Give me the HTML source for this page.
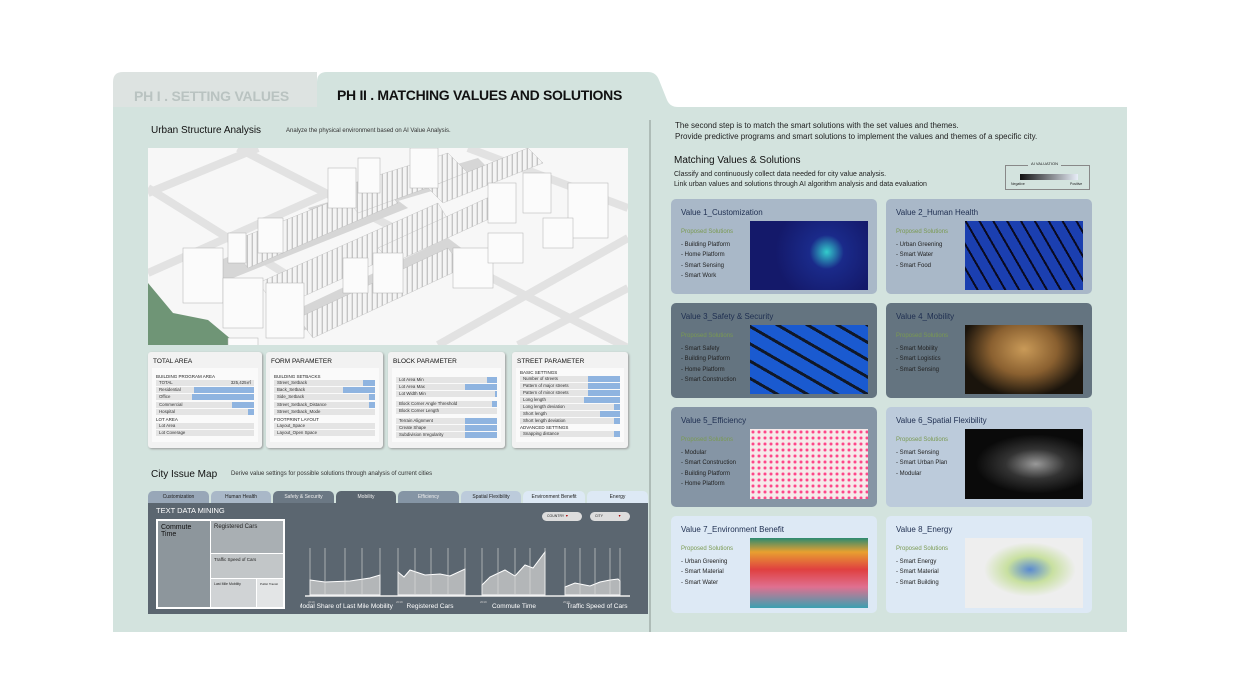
<!DOCTYPE html>
<html><head><meta charset="utf-8"><style>
*{margin:0;padding:0;box-sizing:border-box}
body{width:1240px;height:698px;background:#fff;position:relative;overflow:hidden;font-family:"Liberation Sans",sans-serif;color:#222}
.a{position:absolute}
.card{position:absolute;border-radius:5px;width:206px}
.card .t{position:absolute;left:10px;top:9px;font-size:8px;color:#1e2e50}
.card .p{position:absolute;left:10px;top:30px;font-size:6px;color:#7a9a50}
.card ul{position:absolute;left:10px;top:41px;list-style:none;font-size:6px;line-height:10.3px;color:#222}
.card .im{position:absolute;left:79px;top:22px;width:118px;height:69px}
.pc{position:absolute;top:352px;height:96px;background:#f2f2f2;border-radius:3px;box-shadow:1px 1px 2px #999}
.pc h4{font-size:6.5px;font-weight:normal;margin:6px 0 0 5px;color:#111}
.pc .in{position:absolute;left:4px;right:4px;top:16px;bottom:6px;background:#fafafa}
.row{position:absolute;left:4px;right:4px;height:6px;background:#e4e4e4;font-size:4.4px;line-height:6px;padding-left:3px;color:#333}
.row b{position:absolute;right:0;top:0;height:6px;background:#8fb4e0}
.tab{position:absolute;top:491px;height:12px;font-size:5px;text-align:center;line-height:12px;border-radius:5px 5px 0 0}
</style></head><body>
<svg class="a" style="left:0;top:0" width="1240" height="698">
<path d="M113,82 Q113,72 123,72 L317,72 L317,107 L113,107Z" fill="#dde3e1"/>
<path d="M317,82 Q317,72 327,72 L648,72 Q656,72 659,80 L667,100 Q670,107 678,107 L1127,107 L1127,632 L113,632 L113,107 L317,107Z" fill="#d3e3de"/>
<line x1="650" y1="120" x2="650" y2="632" stroke="#8a9490" stroke-width="1"/>
</svg>
<div class="a" style="left:134px;top:88px;font-size:14px;font-weight:bold;color:#b9c3c1;letter-spacing:-0.2px">PH I . SETTING VALUES</div>
<div class="a" style="left:337px;top:87px;font-size:14px;font-weight:bold;color:#111;letter-spacing:-0.3px">PH II . MATCHING VALUES AND SOLUTIONS</div>
<div class="a" style="left:151px;top:125px;font-size:10px;color:#111">Urban Structure Analysis</div>
<div class="a" style="left:286px;top:128px;font-size:6px;color:#333">Analyze the physical environment based on AI Value Analysis.</div>
<svg class="a" style="left:148px;top:148px" width="480" height="197">
<defs>
<pattern id="bl" width="5" height="12" patternUnits="userSpaceOnUse" patternTransform="skewY(-25)">
<rect width="5" height="12" fill="#f4f4f4"/><rect x="3.6" width="1.4" height="12" fill="#c4c4c4"/>
</pattern>
</defs>
<rect width="480" height="197" fill="#f7f7f7"/>
<g stroke="#e2e2e2" stroke-width="8" fill="none">
<path d="M0,45 L110,0"/><path d="M0,125 L180,45"/><path d="M290,197 L480,90"/><path d="M370,197 L480,140"/><path d="M0,40 L160,140"/><path d="M90,0 L480,200"/><path d="M320,0 L480,60"/>
</g>
<path d="M0,135 L0,197 L90,197 L60,172 L25,165Z" fill="#6f9576"/>
<g fill="#d6d6d6">
<path d="M40,125 L240,45 L260,60 L60,140Z"/><path d="M160,60 L330,10 L345,25 L175,75Z"/><path d="M120,175 L300,90 L320,105 L140,190Z"/>
</g>
<g fill="url(#bl)" stroke="#bbb" stroke-width="0.4">
<path d="M80,95 L230,35 L250,55 L100,120Z"/><path d="M190,40 L300,5 L320,25 L210,65Z"/>
<path d="M110,135 L290,55 L305,80 L130,160Z"/><path d="M150,170 L300,100 L315,120 L165,190Z"/>
<path d="M230,100 L350,45 L365,60 L245,115Z"/><path d="M280,40 L380,0 L395,15 L295,55Z"/>
</g>
<g fill="#fbfbfb" stroke="#b0b0b0" stroke-width="0.5">
<rect x="35" y="100" width="40" height="55"/><rect x="75" y="130" width="40" height="50"/><rect x="118" y="135" width="38" height="55"/>
<rect x="80" y="85" width="18" height="30"/><rect x="110" y="70" width="25" height="35"/>
<rect x="180" y="20" width="28" height="40"/><rect x="210" y="10" width="22" height="35"/><rect x="262" y="0" width="28" height="40"/>
<rect x="340" y="35" width="28" height="40"/><rect x="375" y="25" width="28" height="40"/><rect x="305" y="100" width="40" height="40"/>
<rect x="340" y="85" width="35" height="30"/><rect x="225" y="105" width="30" height="40"/><rect x="195" y="110" width="25" height="35"/>
<rect x="420" y="35" width="40" height="55"/><rect x="395" y="70" width="30" height="30"/><rect x="80" y="190" width="30" height="10"/>
</g>
</svg>
<div class="pc" style="left:148px;width:114px"><h4>TOTAL AREA</h4><div class="in">
<div class="a" style="left:4px;top:6px;font-size:4.5px">BUILDING PROGRAM AREA</div>
<div class="row" style="top:12px">TOTAL<span style="position:absolute;right:3px">325,425㎡</span></div>
<div class="row" style="top:19px">Residential<b style="width:60px"></b></div>
<div class="row" style="top:26px">Office<b style="width:62px"></b></div>
<div class="row" style="top:34px">Commercial<b style="width:22px"></b></div>
<div class="row" style="top:41px">Hospital<b style="width:6px"></b></div>
<div class="a" style="left:4px;top:49px;font-size:4.5px">LOT AREA</div>
<div class="row" style="top:55px">Lot Area</div><div class="row" style="top:62px">Lot Coverage</div></div></div>
<div class="pc" style="left:266px;width:117px"><h4>FORM PARAMETER</h4><div class="in">
<div class="a" style="left:4px;top:6px;font-size:4.5px">BUILDING SETBACKS</div>
<div class="row" style="top:12px">Street_Setback<b style="width:12px"></b></div>
<div class="row" style="top:19px">Back_Setback<b style="width:32px"></b></div>
<div class="row" style="top:26px">Side_Setback<b style="width:6px"></b></div>
<div class="row" style="top:34px">Street_Setback_Distance<b style="width:6px"></b></div>
<div class="row" style="top:41px">Street_Setback_Mode</div>
<div class="a" style="left:4px;top:49px;font-size:4.5px">FOOTPRINT LAYOUT</div>
<div class="row" style="top:55px">Layout_Space</div><div class="row" style="top:62px">Layout_Open Space</div></div></div>
<div class="pc" style="left:388px;width:117px"><h4>BLOCK PARAMETER</h4><div class="in">
<div class="row" style="top:9px">Lot Area Min<b style="width:10px"></b></div>
<div class="row" style="top:16px">Lot Area Max<b style="width:32px"></b></div>
<div class="row" style="top:23px">Lot Width Min<b style="width:2px"></b></div>
<div class="row" style="top:33px">Block Corner Angle Threshold<b style="width:5px"></b></div>
<div class="row" style="top:40px">Block Corner Length</div>
<div class="row" style="top:50px">Terrain Alignment<b style="width:32px"></b></div>
<div class="row" style="top:57px">Create Shape<b style="width:32px"></b></div>
<div class="row" style="top:64px">Subdivision Irregularity<b style="width:32px"></b></div></div></div>
<div class="pc" style="left:512px;width:116px"><h4>STREET PARAMETER</h4><div class="in">
<div class="a" style="left:4px;top:2px;font-size:4.5px">BASIC SETTINGS</div>
<div class="row" style="top:8px">Number of streets<b style="width:32px"></b></div>
<div class="row" style="top:15px">Pattern of major streets<b style="width:32px"></b></div>
<div class="row" style="top:22px">Pattern of minor streets<b style="width:32px"></b></div>
<div class="row" style="top:29px">Long length<b style="width:36px"></b></div>
<div class="row" style="top:36px">Long length deviation<b style="width:6px"></b></div>
<div class="row" style="top:43px">Short length<b style="width:20px"></b></div>
<div class="row" style="top:50px">Short length deviation<b style="width:6px"></b></div>
<div class="a" style="left:4px;top:57px;font-size:4.5px">ADVANCED SETTINGS</div>
<div class="row" style="top:63px">Snapping distance<b style="width:6px"></b></div></div></div>
<div class="a" style="left:151px;top:469px;font-size:10px;color:#111">City Issue Map</div>
<div class="a" style="left:231px;top:471px;font-size:6px;color:#333">Derive value settings for possible solutions through analysis of current cities</div>
<div class="tab" style="left:148px;width:61px;background:#98a7b8">Customization</div>
<div class="tab" style="left:211px;width:60px;background:#a9b8c8">Human Health</div>
<div class="tab" style="left:273px;width:61px;background:#6b7884;color:#eee">Safety &amp; Security</div>
<div class="tab" style="left:336px;width:60px;background:#5b6670;color:#eee;height:13px">Mobility</div>
<div class="tab" style="left:398px;width:61px;background:#8595a5;color:#eee">Efficiency</div>
<div class="tab" style="left:461px;width:60px;background:#bccbdb">Spatial Flexibility</div>
<div class="tab" style="left:523px;width:62px;background:#dde9f5">Environment Benefit</div>
<div class="tab" style="left:587px;width:61px;background:#dde9f5">Energy</div>
<div class="a" style="left:148px;top:503px;width:500px;height:111px;background:#5b6670"></div>
<div class="a" style="left:156px;top:506px;font-size:7.5px;color:#fff">TEXT DATA MINING</div>
<div class="a" style="left:156px;top:519px;width:129px;height:90px;background:#fff"></div>
<div class="a" style="left:158px;top:521px;width:52px;height:86px;background:#8d969c;font-size:7px;padding:3px;color:#111">Commute Time</div>
<div class="a" style="left:211px;top:521px;width:72px;height:32px;background:#a9afb3;font-size:6px;padding:3px">Registered Cars</div>
<div class="a" style="left:211px;top:554px;width:72px;height:24px;background:#c2c6c8;font-size:4.5px;padding:3px">Traffic Speed of Cars</div>
<div class="a" style="left:211px;top:579px;width:45px;height:28px;background:#d0d3d5;font-size:3.5px;padding:3px">Last Mile Mobility</div>
<div class="a" style="left:257px;top:579px;width:26px;height:28px;background:#e3e5e6;font-size:3px;padding:3px">Public Transit</div>
<div class="a" style="left:542px;top:512px;width:40px;height:9px;background:#ddd;border-radius:5px;font-size:3.5px;line-height:9px;padding-left:5px">COUNTRY <span style="color:#a00">▼</span></div>
<div class="a" style="left:590px;top:512px;width:40px;height:9px;background:#ddd;border-radius:5px;font-size:3.5px;line-height:9px;padding-left:5px">CITY <span style="color:#a00;margin-left:14px">▼</span></div>
<svg class="a" style="left:300px;top:525px" width="340" height="85">
<g fill="#b3b6b8" stroke="#fff" stroke-width="1">
<path d="M10,55 L25,57 L50,56 L70,53 L80,50 L80,70 L10,70Z"/>
<path d="M98,47 L104,52 L110,45 L125,50 L140,49 L150,51 L165,44 L165,70 L98,70Z"/>
<path d="M182,60 L190,52 L205,45 L215,51 L225,40 L233,43 L245,27 L245,70 L182,70Z"/>
<path d="M265,62 L275,58 L290,61 L300,57 L310,55 L318,54 L320,56 L320,70 L265,70Z"/>
</g>
<g stroke="#ddd" stroke-width="0.6"><path d="M10,23V70M25,23V70M45,23V70M62,23V70M80,23V70M98,23V70M115,23V70M131,23V70M148,23V70M165,23V70M182,23V70M198,23V70M215,23V70M230,23V70M245,23V70M265,23V70M280,23V70M295,23V70M310,23V70M320,23V70"/></g>
<line x1="5" y1="71" x2="330" y2="71" stroke="#eee" stroke-width="1.5"/>
<g font-size="3" fill="#ccc"><text x="8" y="78">2019</text><text x="96" y="78">2019</text><text x="180" y="78">2019</text><text x="263" y="78">2019</text></g>
<g font-size="6.5" fill="#fff" text-anchor="middle"><text x="45" y="83">Modal Share of Last Mile Mobility</text><text x="130" y="83">Registered Cars</text><text x="214" y="83">Commute Time</text><text x="297" y="83">Traffic Speed of Cars</text></g>
</svg>
<div class="a" style="left:675px;top:120px;font-size:8px;line-height:11px;color:#222">The second step is to match the smart solutions with the set values and themes.<br>Provide predictive programs and smart solutions to implement the values and themes of a specific city.</div>
<div class="a" style="left:674px;top:155px;font-size:10px;color:#111">Matching Values &amp; Solutions</div>
<div class="a" style="left:674px;top:170px;font-size:7px;line-height:10px;color:#222">Classify and continuously collect data needed for city value analysis.<br>Link urban values and solutions through AI algorithm analysis and data evaluation</div>
<div class="a" style="left:1005px;top:165px;width:85px;height:25px;border:1px solid #888"></div>
<div class="a" style="left:1028px;top:161px;font-size:4px;background:#d3e3de;padding:0 3px">AI VALUATION</div>
<div class="a" style="left:1020px;top:174px;width:58px;height:6px;background:linear-gradient(90deg,#111,#e8eef8)"></div>
<div class="a" style="left:1011px;top:182px;font-size:3.5px">Negative</div><div class="a" style="left:1070px;top:182px;font-size:3.5px">Positive</div>

<div class="card" style="left:671px;top:199px;height:95px;background:#a9b8c8"><div class="t">Value 1_Customization</div><div class="p">Proposed Solutions</div><ul><li>- Building Platform</li><li>- Home Platform</li><li>- Smart Sensing</li><li>- Smart Work</li></ul><div class="im" style="background:radial-gradient(circle at 65% 45%,#3cc 0,#1a2a8a 20%,#14196a 60%)"></div></div>
<div class="card" style="left:886px;top:199px;height:95px;background:#a9b8c8"><div class="t">Value 2_Human Health</div><div class="p">Proposed Solutions</div><ul><li>- Urban Greening</li><li>- Smart Water</li><li>- Smart Food</li></ul><div class="im" style="background:repeating-linear-gradient(60deg,#1b3fb0 0 10px,#0a0a20 10px 12px),#1b3fb0"></div></div>
<div class="card" style="left:671px;top:303px;height:95px;background:#647480"><div class="t">Value 3_Safety &amp; Security</div><div class="p">Proposed Solutions</div><ul><li>- Smart Safety</li><li>- Building Platform</li><li>- Home Platform</li><li>- Smart Construction</li></ul><div class="im" style="background:repeating-linear-gradient(30deg,#1a5ad0 0 12px,#101828 12px 15px)"></div></div>
<div class="card" style="left:886px;top:303px;height:95px;background:#647480"><div class="t">Value 4_Mobility</div><div class="p">Proposed Solutions</div><ul><li>- Smart Mobility</li><li>- Smart Logistics</li><li>- Smart Sensing</li></ul><div class="im" style="background:radial-gradient(ellipse at 50% 35%,#c99a58 0,#8a6030 40%,#1a140c 75%)"></div></div>
<div class="card" style="left:671px;top:407px;height:100px;background:#8595a5"><div class="t">Value 5_Efficiency</div><div class="p">Proposed Solutions</div><ul><li>- Modular</li><li>- Smart Construction</li><li>- Building Platform</li><li>- Home Platform</li></ul><div class="im" style="top:22px;height:70px;background:radial-gradient(circle,#f48 0 1px,transparent 2px) 0 0/6px 6px,#f6eaea"></div></div>
<div class="card" style="left:886px;top:407px;height:100px;background:#bccbdb"><div class="t">Value 6_Spatial Flexibility</div><div class="p">Proposed Solutions</div><ul><li>- Smart Sensing</li><li>- Smart Urban Plan</li><li>- Modular</li></ul><div class="im" style="top:22px;height:70px;background:radial-gradient(ellipse at 60% 50%,#999 0,#333 30%,#0a0a0a 60%)"></div></div>
<div class="card" style="left:671px;top:516px;height:97px;background:#dde9f5"><div class="t">Value 7_Environment Benefit</div><div class="p">Proposed Solutions</div><ul><li>- Urban Greening</li><li>- Smart Material</li><li>- Smart Water</li></ul><div class="im" style="top:22px;height:70px;background:linear-gradient(180deg,#2c8a70 0,#e8a030 20%,#e04040 45%,#e07090 70%,#3aa0b0 100%)"></div></div>
<div class="card" style="left:886px;top:516px;height:97px;background:#dde9f5"><div class="t">Value 8_Energy</div><div class="p">Proposed Solutions</div><ul><li>- Smart Energy</li><li>- Smart Material</li><li>- Smart Building</li></ul><div class="im" style="top:22px;height:70px;background:radial-gradient(ellipse at 55% 45%,#5a8ad0 0,#c8e0a0 25%,#eee 50%)"></div></div>
</body></html>
